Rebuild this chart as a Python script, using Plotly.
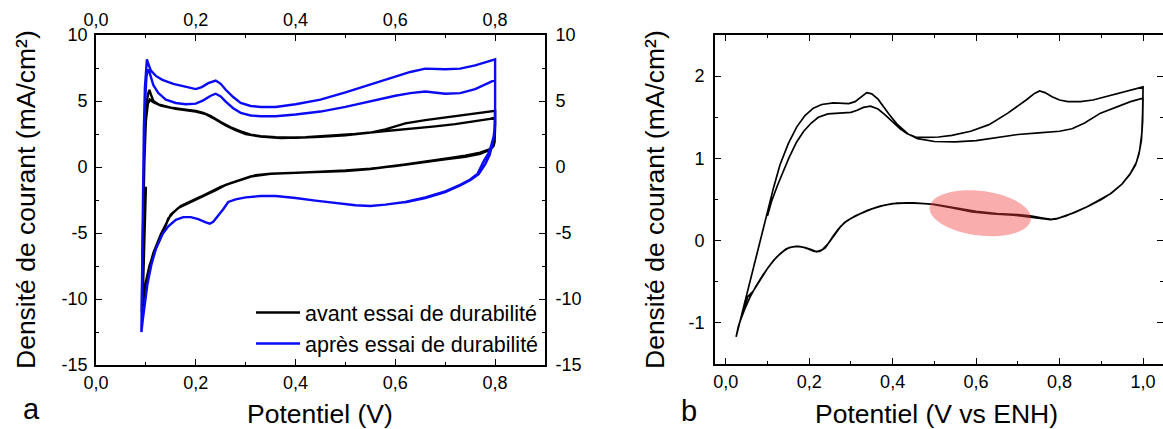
import numpy as np
import plotly.graph_objects as go

W, H = 1163, 429
FONT = "Arial, 'Liberation Sans', sans-serif"

# ---------------- Panel a : CV before / after durability test ----------------
avant_v = [0.100, 0.099, 0.097, 0.094, 0.092,
           0.093, 0.094, 0.095, 0.097, 0.099, 0.102, 0.105, 0.107, 0.110, 0.115, 0.125, 0.150, 0.180, 0.200,
           0.215, 0.230, 0.250, 0.270, 0.290, 0.310, 0.330, 0.360, 0.400, 0.450, 0.500, 0.550, 0.580, 0.620,
           0.660, 0.700, 0.750, 0.790, 0.800,
           0.800, 0.799, 0.797, 0.790, 0.770, 0.740, 0.700, 0.660, 0.620, 0.580, 0.550, 0.500, 0.450, 0.400,
           0.350, 0.320, 0.300, 0.280, 0.260, 0.240, 0.220, 0.200, 0.180, 0.165, 0.155, 0.145, 0.135, 0.125,
           0.115, 0.107, 0.100, 0.096, 0.093, 0.092,
           0.093, 0.095, 0.097, 0.100, 0.104, 0.108, 0.115, 0.130, 0.160, 0.200, 0.220, 0.240, 0.260, 0.280,
           0.300, 0.330, 0.370, 0.420, 0.470, 0.520, 0.560, 0.600, 0.640, 0.680, 0.720, 0.760, 0.790, 0.800,
           0.800, 0.799, 0.796, 0.790, 0.770, 0.740, 0.700, 0.650, 0.600, 0.550, 0.500, 0.450, 0.400, 0.350,
           0.310, 0.290, 0.270, 0.250, 0.230, 0.210, 0.190, 0.170, 0.150, 0.130, 0.115, 0.105, 0.098, 0.094]
avant_j = [-1.5, -3.0, -6.0, -9.5, -11.0,
           -8.0, -5.0, -2.0, 1.0, 3.5, 5.0, 5.6, 5.85, 5.5, 5.0, 4.75, 4.5, 4.35, 4.25,
           4.1, 3.85, 3.4, 3.0, 2.7, 2.45, 2.33, 2.25, 2.22, 2.28, 2.4, 2.6, 2.85, 3.3,
           3.55, 3.75, 3.95, 4.15, 4.25,
           3.0, 1.9, 1.6, 1.35, 1.08, 0.85, 0.63, 0.4, 0.2, 0.0, -0.15, -0.3, -0.38, -0.43,
           -0.5, -0.62, -0.85, -1.1, -1.35, -1.75, -2.1, -2.45, -2.8, -3.1, -3.45, -3.9, -4.9, -5.7,
           -6.6, -7.5, -8.7, -9.8, -10.6, -11.0,
           -7.0, -3.0, 0.5, 3.5, 4.8, 5.1, 4.9, 4.65, 4.4, 4.2, 4.0, 3.6, 3.15, 2.8,
           2.5, 2.3, 2.2, 2.25, 2.35, 2.5, 2.65, 2.78, 2.92, 3.08, 3.25, 3.45, 3.65, 3.75,
           2.6, 2.0, 1.55, 1.3, 1.0, 0.78, 0.58, 0.32, 0.08, -0.12, -0.27, -0.36, -0.42, -0.52,
           -0.72, -0.95, -1.22, -1.5, -1.9, -2.25, -2.6, -2.95, -3.6, -5.1, -6.5, -7.9, -9.2, -10.4]

apres_v = [0.091, 0.092, 0.093, 0.094, 0.096, 0.098, 0.100, 0.102, 0.105, 0.110, 0.120, 0.133, 0.155, 0.178,
           0.200, 0.212, 0.225, 0.240, 0.250, 0.260, 0.275, 0.290, 0.310, 0.330, 0.360, 0.400, 0.450, 0.500,
           0.550, 0.600, 0.630, 0.660, 0.700, 0.730, 0.760, 0.800,
           0.800, 0.800, 0.797, 0.792, 0.786, 0.778, 0.765, 0.750, 0.730, 0.700, 0.660, 0.620, 0.580, 0.550,
           0.520, 0.480, 0.440, 0.400, 0.360, 0.330, 0.300, 0.280, 0.265, 0.255, 0.245, 0.235, 0.228, 0.220,
           0.205, 0.190, 0.175, 0.160, 0.145, 0.133, 0.120, 0.111, 0.103, 0.098, 0.094, 0.091,
           0.093, 0.095, 0.098, 0.101, 0.104, 0.107, 0.115, 0.125, 0.140, 0.160, 0.180, 0.200, 0.215, 0.230,
           0.240, 0.250, 0.260, 0.275, 0.290, 0.310, 0.330, 0.360, 0.400, 0.450, 0.500, 0.550, 0.600, 0.630,
           0.660, 0.700, 0.730, 0.760, 0.800,
           0.800, 0.799, 0.795, 0.789, 0.780, 0.767, 0.750, 0.730, 0.700, 0.660, 0.620]
apres_j = [-12.5, -9.0, -5.0, -1.0, 3.0, 6.0, 7.6, 8.15, 7.8, 7.3, 6.9, 6.6, 6.3, 6.1,
           5.9, 6.05, 6.35, 6.55, 6.3, 5.85, 5.3, 4.85, 4.62, 4.55, 4.55, 4.75, 5.1, 5.65,
           6.25, 6.85, 7.2, 7.45, 7.4, 7.45, 7.7, 8.15,
           5.0, 3.2, 2.3, 1.6, 1.0, 0.5, -0.5, -0.95, -1.35, -1.85, -2.3, -2.65, -2.85, -2.95,
           -2.9, -2.75, -2.55, -2.35, -2.2, -2.2, -2.3, -2.45, -2.65, -3.2, -3.7, -4.15, -4.3, -4.2,
           -3.95, -3.8, -3.8, -4.0, -4.5, -5.1, -6.2, -7.4, -8.9, -10.2, -11.5, -12.5,
           -6.0, 0.0, 4.5, 6.8, 7.4, 7.2, 6.2, 5.6, 5.1, 4.85, 4.75, 4.8, 5.05, 5.4,
           5.55, 5.35, 4.95, 4.45, 4.1, 3.9, 3.85, 3.85, 3.98, 4.2, 4.55, 5.0, 5.4, 5.6,
           5.72, 5.55, 5.6, 5.9, 6.6,
           4.5, 2.8, 1.8, 0.9, 0.2, -0.55, -1.0, -1.4, -1.9, -2.35, -2.68]

# ---------------- Panel b : CV vs ENH ----------------
enh_v = [0.100, 0.110, 0.124, 0.140, 0.151, 0.170, 0.187, 0.205, 0.222, 0.245, 0.276, 0.300, 0.315, 0.330,
         0.347, 0.365, 0.382, 0.400, 0.418, 0.435, 0.455, 0.480, 0.510, 0.542, 0.587, 0.631, 0.676, 0.720,
         0.740, 0.752, 0.765, 0.782, 0.800, 0.820, 0.850, 0.880, 0.910, 0.942, 0.970, 0.998,
         1.000, 0.999, 0.997, 0.992, 0.984, 0.970, 0.950, 0.925, 0.900, 0.870, 0.840, 0.815, 0.795, 0.780,
         0.760, 0.730, 0.700, 0.650, 0.600, 0.550, 0.500, 0.450, 0.410, 0.380, 0.350, 0.320, 0.300, 0.285,
         0.270, 0.258, 0.245, 0.232, 0.218, 0.205, 0.190, 0.175, 0.160, 0.145, 0.130, 0.115, 0.100, 0.080,
         0.065, 0.053, 0.040, 0.030, 0.025,
         0.040, 0.060, 0.080, 0.100, 0.115, 0.130, 0.150, 0.170, 0.190, 0.210, 0.230, 0.258, 0.280, 0.295,
         0.310, 0.325, 0.338, 0.350, 0.365, 0.391, 0.410, 0.436, 0.460, 0.500, 0.550, 0.600, 0.650, 0.700,
         0.750, 0.800, 0.830, 0.860, 0.898, 0.942, 0.970, 0.998,
         1.000, 0.999, 0.996, 0.990, 0.982, 0.968, 0.948, 0.922, 0.895, 0.865, 0.835, 0.812, 0.793, 0.778,
         0.755, 0.725, 0.690, 0.640, 0.590, 0.540, 0.490, 0.440, 0.400, 0.370, 0.340, 0.310, 0.290, 0.275,
         0.262, 0.250, 0.238, 0.225, 0.212, 0.198, 0.182, 0.168, 0.152, 0.138, 0.122, 0.106, 0.090, 0.072,
         0.058, 0.045, 0.034, 0.025]
enh_j = [0.30, 0.48, 0.67, 0.87, 1.00, 1.20, 1.33, 1.43, 1.50, 1.54, 1.555, 1.56, 1.585, 1.62,
         1.635, 1.60, 1.53, 1.44, 1.36, 1.30, 1.26, 1.255, 1.26, 1.28, 1.33, 1.41, 1.55, 1.71,
         1.79, 1.82, 1.80, 1.75, 1.71, 1.69, 1.69, 1.71, 1.75, 1.79, 1.83, 1.87,
         1.87, 1.55, 1.30, 1.10, 0.95, 0.82, 0.69, 0.58, 0.50, 0.42, 0.35, 0.30, 0.27, 0.26,
         0.275, 0.30, 0.315, 0.33, 0.355, 0.40, 0.44, 0.46, 0.455, 0.43, 0.385, 0.32, 0.27, 0.22,
         0.14, 0.06, -0.04, -0.11, -0.135, -0.11, -0.085, -0.07, -0.075, -0.10, -0.16, -0.24, -0.34, -0.50,
         -0.62, -0.68, -0.90, -1.05, -1.17,
         -0.87, -0.46, -0.06, 0.36, 0.65, 0.92, 1.18, 1.38, 1.52, 1.61, 1.655, 1.675, 1.665, 1.665,
         1.69, 1.75, 1.80, 1.785, 1.72, 1.54, 1.42, 1.30, 1.24, 1.205, 1.20, 1.215, 1.25, 1.29,
         1.31, 1.33, 1.36, 1.43, 1.55, 1.64, 1.69, 1.73,
         1.73, 1.45, 1.22, 1.05, 0.92, 0.80, 0.68, 0.57, 0.49, 0.41, 0.34, 0.295, 0.265, 0.255,
         0.27, 0.295, 0.31, 0.325, 0.35, 0.40, 0.445, 0.46, 0.45, 0.42, 0.37, 0.30, 0.24, 0.17,
         0.08, -0.01, -0.09, -0.13, -0.13, -0.10, -0.075, -0.07, -0.085, -0.13, -0.20, -0.30, -0.41, -0.56,
         -0.69, -0.84, -0.99, -1.17]

# ---------------- Tick labels ----------------
a_xticks = [0.0, 0.2, 0.4, 0.6, 0.8]
a_xlabels = ["0,0", "0,2", "0,4", "0,6", "0,8"]
a_yticks = [-15, -10, -5, 0, 5, 10]
a_ylabels = ["-15", "-10", "-5", "0", "5", "10"]
b_xticks = [0.0, 0.2, 0.4, 0.6, 0.8, 1.0]
b_xlabels = ["0,0", "0,2", "0,4", "0,6", "0,8", "1,0"]
b_yticks = [-1, 0, 1, 2]
b_ylabels = ["-1", "0", "1", "2"]

# ---------------- Layout geometry (pixels) ----------------
A_X0, A_X1, A_Y0, A_Y1 = 96, 545, 35, 365
B_X0, B_X1, B_Y0, B_Y1 = 715, 1163, 35, 364
A_XRANGE, A_YRANGE = [0, 0.9], [-15, 10]
B_XRANGE, B_YRANGE = [-0.0256, 1.0478], [-1.5, 2.5]

def xd(p0, p1):
    return [p0 / W, min(p1 / W, 1.0)]

def yd(p0, p1):
    return [(H - p1) / H, (H - p0) / H]

tickfont = dict(family=FONT, size=18, color="black")
common = dict(showline=True, linecolor="black", linewidth=1.6, ticks="inside", ticklen=6,
              tickwidth=1.3, tickcolor="black", showgrid=False, zeroline=False,
              tickfont=tickfont, automargin=False, ticklabeloverflow="allow")

def minor(d):
    return dict(ticks="inside", ticklen=3.5, dtick=d, tick0=0, tickcolor="black", tickwidth=1.3, showgrid=False)

fig = go.Figure()
fig.add_trace(go.Scatter(x=avant_v, y=avant_j, mode="lines", name="avant essai de durabilité",
                         line=dict(color="black", width=2.4), xaxis="x", yaxis="y"))
fig.add_trace(go.Scatter(x=apres_v, y=apres_j, mode="lines", name="après essai de durabilité",
                         line=dict(color="#0a0af5", width=2.4), xaxis="x", yaxis="y"))
fig.add_trace(go.Scatter(x=enh_v, y=enh_j, mode="lines", showlegend=False,
                         line=dict(color="black", width=1.7), xaxis="x3", yaxis="y3"))
# empty traces so that the mirrored (overlay) axes get drawn
for xa, ya in (("x2", "y"), ("x", "y2"), ("x3", "y4")):
    fig.add_trace(go.Scatter(x=[], y=[], mode="lines", showlegend=False, hoverinfo="skip",
                             xaxis=xa, yaxis=ya))

fig.update_layout(
    width=W, height=H, margin=dict(l=0, r=0, t=0, b=0),
    paper_bgcolor="white", plot_bgcolor="white",
    font=dict(family=FONT, color="black"),
    xaxis=dict(common, domain=xd(A_X0, A_X1), range=A_XRANGE, anchor="y", side="bottom",
               tickvals=a_xticks, ticktext=a_xlabels, minor=minor(0.1), ticklabelstandoff=1),
    xaxis2=dict(common, domain=xd(A_X0, A_X1), range=A_XRANGE, anchor="y", side="top", overlaying="x",
                tickvals=a_xticks, ticktext=a_xlabels, minor=minor(0.1), ticklabelstandoff=0),
    yaxis=dict(common, domain=yd(A_Y0, A_Y1), range=A_YRANGE, anchor="x", side="left",
               tickvals=a_yticks, ticktext=a_ylabels, minor=minor(2.5), ticklabelstandoff=3),
    yaxis2=dict(common, domain=yd(A_Y0, A_Y1), range=A_YRANGE, anchor="x", side="right", overlaying="y",
                tickvals=a_yticks, ticktext=a_ylabels, minor=minor(2.5), ticklabelstandoff=5),
    xaxis3=dict(common, domain=xd(B_X0, B_X1), range=B_XRANGE, anchor="y3", side="bottom", mirror="ticks",
                tickvals=b_xticks, ticktext=b_xlabels, minor=minor(0.1), ticklabelstandoff=1),
    yaxis3=dict(common, domain=yd(B_Y0, B_Y1), range=B_YRANGE, anchor="x3", side="left",
                tickvals=b_yticks, ticktext=b_ylabels, minor=minor(0.5), ticklabelstandoff=5),
    yaxis4=dict(common, domain=yd(B_Y0, B_Y1), range=B_YRANGE, anchor="x3", side="right", overlaying="y3",
                showline=False, showticklabels=False, tickvals=b_yticks, minor=minor(0.5)),
    legend=dict(x=251 / W, y=1 - 292 / H, xanchor="left", yanchor="top",
                font=dict(family=FONT, size=21.5, color="black"), bgcolor="rgba(0,0,0,0)",
                borderwidth=0, itemwidth=44, tracegroupgap=0),
)

title_font = dict(family=FONT, size=26.5, color="black")
annots = [
    dict(text="Densité de courant (mA/cm²)", x=26 / W, y=1 - 200 / H, textangle=-90, font=title_font),
    dict(text="Densité de courant (mA/cm²)", x=655 / W, y=1 - 200 / H, textangle=-90, font=title_font),
    dict(text="Potentiel (V)", x=320 / W, y=1 - 414 / H, font=title_font),
    dict(text="Potentiel (V vs ENH)", x=936 / W, y=1 - 414 / H, font=title_font),
    dict(text="a", x=31 / W, y=1 - 409 / H, font=dict(family=FONT, size=29, color="black")),
    dict(text="b", x=689 / W, y=1 - 411 / H, font=dict(family=FONT, size=29, color="black")),
]
for a in annots:
    fig.add_annotation(xref="paper", yref="paper", xanchor="center", yanchor="middle",
                       showarrow=False, **a)

# highlighted region (tilted ellipse) on panel b
ell_cx, ell_cy = 0.61, 0.333
ell_a_px, ell_b_px, ell_tilt_deg = 51.0, 22.3, 7.0
px_per_v = (B_X1 - B_X0) / (B_XRANGE[1] - B_XRANGE[0])
px_per_j = (B_Y1 - B_Y0) / (B_YRANGE[1] - B_YRANGE[0])
t = np.linspace(0, 2 * np.pi, 73)
phi = np.radians(ell_tilt_deg)
dx = ell_a_px * np.cos(t) * np.cos(phi) - ell_b_px * np.sin(t) * np.sin(phi)
dy = ell_a_px * np.cos(t) * np.sin(phi) + ell_b_px * np.sin(t) * np.cos(phi)
ex = ell_cx + dx / px_per_v
ey = ell_cy - dy / px_per_j
path = "M " + " L ".join(f"{x:.5f},{y:.5f}" for x, y in zip(ex, ey)) + " Z"
fig.add_shape(type="path", path=path, xref="x3", yref="y3", fillcolor="rgba(240,60,60,0.42)",
              line=dict(width=0), layer="above")

# remove the browser's default 8px body margin so the figure fills the window exactly
fig.write_html("out.html", config={"displayModeBar": False},
               post_script="document.body.style.margin='0px';")
